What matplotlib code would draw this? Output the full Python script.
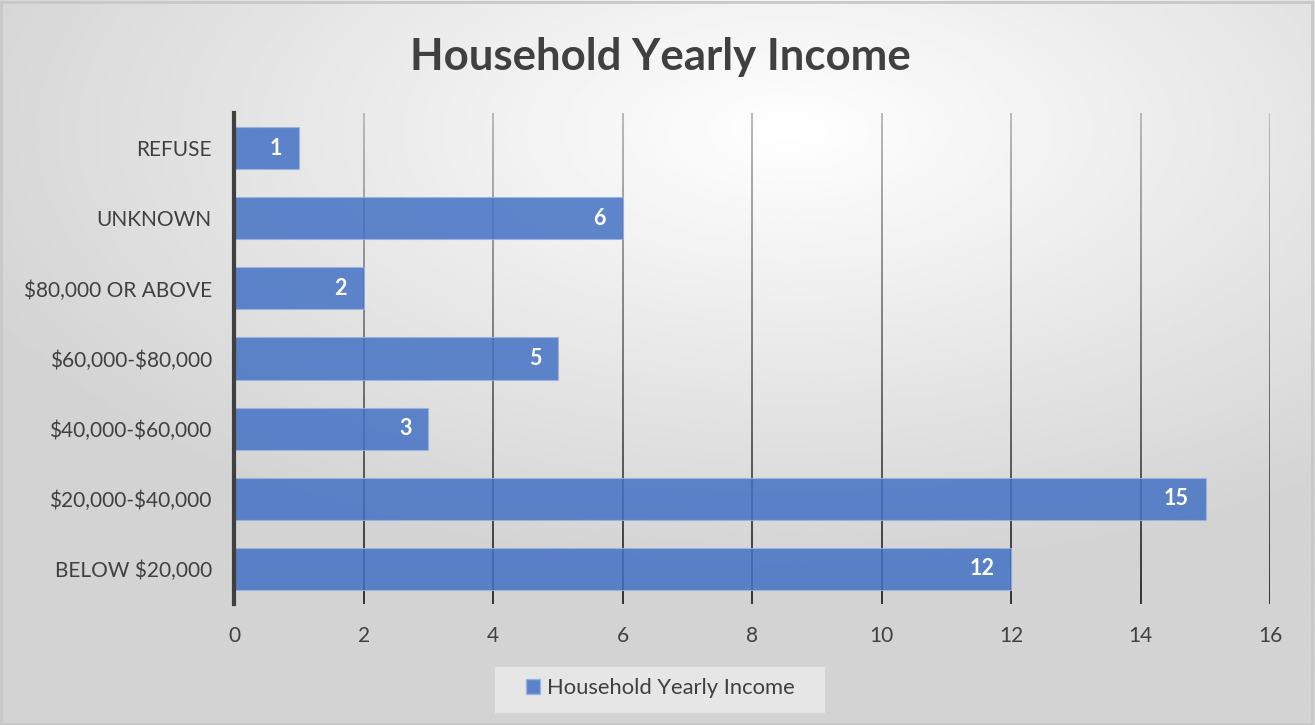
"""Household yearly income bar chart."""

import matplotlib.pyplot as plt
import numpy as np
from matplotlib.collections import LineCollection
from matplotlib.patches import Patch, Rectangle

plt.rcParams["font.family"] = ["Lato", "DejaVu Sans"]
plt.rcParams["text.parse_math"] = False

categories = [
    "BELOW $20,000",
    "$20,000-$40,000",
    "$40,000-$60,000",
    "$60,000-$80,000",
    "$80,000 OR ABOVE",
    "UNKNOWN",
    "REFUSE",
]
counts = [12, 15, 3, 5, 2, 6, 1]
x_ticks = [0, 2, 4, 6, 8, 10, 12, 14, 16]

TEXT = "#404040"
BAR = "#4472C4"

fig = plt.figure(figsize=(13.15, 7.25), dpi=100)

# radial-ish gradient background (data coords: y runs top -> bottom)
bg = fig.add_axes([0, 0, 1, 1], zorder=-10)
yy, xx = np.mgrid[0:1:300j, 0:1:500j]
dist = np.sqrt(((xx - 0.6) / 1.0) ** 2 + ((yy - 0.18) / 0.9) ** 2)
shade = np.clip(1.0 - 0.22 * dist / dist.max() * 1.25, 0.83, 1.0)
bg.imshow(shade, cmap="gray", vmin=0, vmax=1, extent=(0, 1, 1, 0), aspect="auto")
bg.set_xlim(0, 1)
bg.set_ylim(1, 0)
bg.axis("off")
bg.add_patch(Rectangle((0.001, 0.002), 0.997, 0.995, fill=False, ec="#c8c8c8", lw=2,
                       transform=bg.transAxes))

ax = fig.add_axes([0.178, 0.167, 0.788, 0.677])
ax.patch.set_alpha(0)

y = np.arange(len(categories))
ax.set_xlim(0, 16)
ax.set_ylim(-0.5, len(categories) - 0.5)

# vertical gridlines shading from light at the top to dark at the bottom
n_seg = 40
ys = np.linspace(-0.5, len(categories) - 0.5, n_seg + 1)
for xt in x_ticks[1:]:
    segs = [[(xt, ys[i]), (xt, ys[i + 1])] for i in range(n_seg)]
    tone = np.linspace(0.2, 0.72, n_seg)
    cols = [(t, t, t) for t in tone]
    ax.add_collection(LineCollection(segs, colors=cols, linewidths=1.4, zorder=1))

bars = ax.barh(y, counts, height=0.6, color=BAR, alpha=0.85, edgecolor="#9db3e0",
               linewidth=0.8, zorder=2)

for bar, val in zip(bars, counts):
    ax.text(bar.get_width() - 0.26, bar.get_y() + bar.get_height() / 2, f"{val}",
            ha="right", va="center", color="white", fontsize=15.5, fontweight="bold", zorder=3)

ax.set_yticks(y)
ax.set_yticklabels(categories, fontsize=15, color=TEXT)
ax.set_xticks(x_ticks)
ax.set_xticklabels([str(t) for t in x_ticks], fontsize=15, color=TEXT)
ax.tick_params(axis="y", length=0, pad=16)
ax.tick_params(axis="x", length=0, pad=16)

for side in ["top", "right", "bottom"]:
    ax.spines[side].set_visible(False)
ax.spines["left"].set_color("#404040")
ax.spines["left"].set_linewidth(3)
ax.spines["left"].set_zorder(4)

fig.text(0.502, 0.922, "Household Yearly Income", ha="center", va="center",
         fontsize=31.5, fontweight="bold", color=TEXT)

# legend
bg.add_patch(Rectangle((495 / 1315, 667 / 725), 330 / 1315, 46 / 725, fc="#e6e6e6",
                       ec="none", zorder=2))
handle = Patch(facecolor=BAR, alpha=0.85, edgecolor="#9db3e0")
fig.legend([handle], ["Household Yearly Income"], loc="center", bbox_to_anchor=(0.502, 0.051),
           frameon=False, fontsize=15.8, handlelength=0.65, handleheight=0.65, handletextpad=0.3,
           labelcolor=TEXT)

fig.savefig("out.png", dpi=100)
